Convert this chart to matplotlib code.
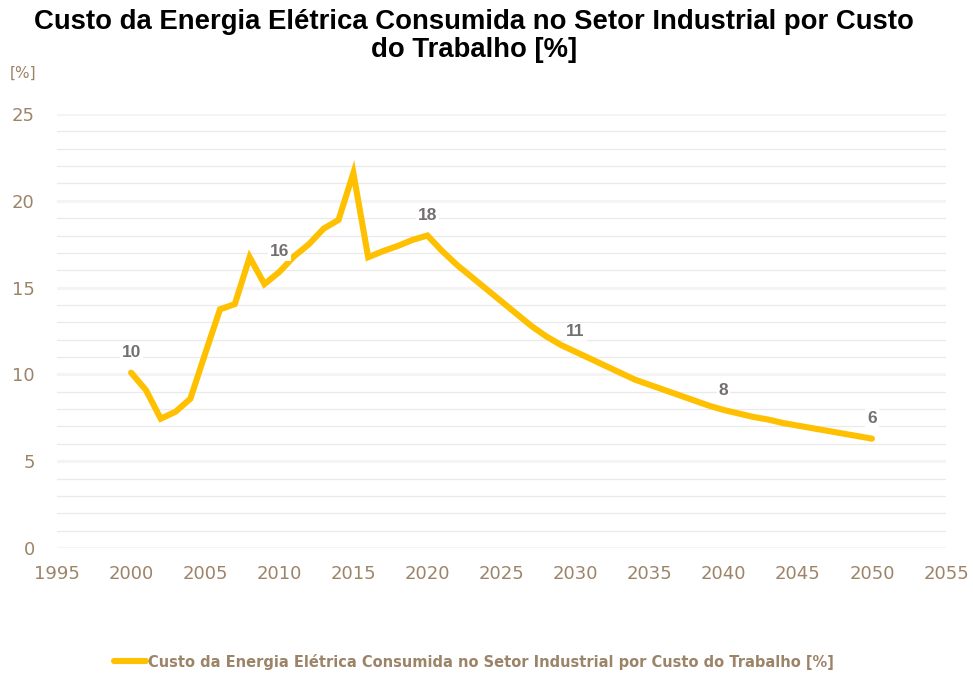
"""Custo da energia elétrica no setor industrial em relação ao custo do trabalho."""

import numpy as np
import matplotlib
matplotlib.use("Agg")
import matplotlib.pyplot as plt
from matplotlib.lines import Line2D

years = list(range(2000, 2051))
cost_pct = [
    10.1, 9.1, 7.45, 7.85, 8.6, 11.2, 13.75, 14.05, 16.75, 15.2,
    15.9, 16.8, 17.5, 18.4, 18.9, 21.6, 16.75, 17.1, 17.4, 17.75,
    18.0, 17.1, 16.3, 15.6, 14.9, 14.2, 13.5, 12.8, 12.2, 11.7,
    11.3, 10.9, 10.5, 10.1, 9.7, 9.4, 9.1, 8.8, 8.5, 8.2,
    7.95, 7.75, 7.55, 7.4, 7.2, 7.05, 6.9, 6.75, 6.6, 6.45,
    6.3,
]
label_years = [2000, 2010, 2020, 2030, 2040, 2050]

title = "Custo da Energia Elétrica Consumida no Setor Industrial por Custo\ndo Trabalho [%]"
series_name = "Custo da Energia Elétrica Consumida no Setor Industrial por Custo do Trabalho [%]"

line_color = "#FFC000"
tick_color = "#9C8468"
label_color = "#757070"

fig = plt.figure(figsize=(9.73, 6.73), dpi=100)
ax = fig.add_axes([0.0586, 0.1857, 0.9137, 0.6449])

ax.set_xlim(1995, 2055)
ax.set_ylim(0, 25)
ax.set_xticks(np.arange(1995, 2056, 5))
ax.set_yticks(np.arange(0, 26, 5))
ax.set_yticks(np.arange(0, 26, 1), minor=True)

# light horizontal grid: thick majors, thin minors
ax.grid(axis="y", which="major", color="#F4F4F4", linewidth=2.2, zorder=0)
ax.grid(axis="y", which="minor", color="#EAEAEA", linewidth=0.9, zorder=0)
for s in ax.spines.values():
    s.set_visible(False)
ax.tick_params(axis="both", which="both", length=0)
ax.tick_params(axis="x", colors=tick_color, labelsize=13, pad=12)
ax.tick_params(axis="y", colors=tick_color, labelsize=13, pad=16)

ax.plot(years, cost_pct, color=line_color, linewidth=4.4,
        solid_capstyle="round", solid_joinstyle="miter", zorder=3)

for yr in label_years:
    v = cost_pct[years.index(yr)]
    ax.annotate(f"{v:.0f}", (yr, v), xytext=(0, 9), textcoords="offset points",
                ha="center", va="bottom", fontsize=12.5, fontweight="bold",
                color=label_color, family="Liberation Sans", zorder=4,
                bbox=dict(boxstyle="square,pad=0.1", fc="white", ec="none"))

fig.text(0.487, 0.987, title, ha="center", va="top", fontsize=19.8,
         fontweight="bold", family="Liberation Sans", linespacing=1.1)
fig.text(0.01, 0.891, "[%]", ha="left", va="center", fontsize=11, color=tick_color)

handle = Line2D([0], [0], color=line_color, linewidth=4.4, solid_capstyle="round")
fig.legend([handle], [series_name], loc="center", bbox_to_anchor=(0.487, 0.017),
           frameon=False, handlelength=2.2, handletextpad=0.1,
           prop=dict(size=10.5, weight="bold"), labelcolor=tick_color)

fig.savefig("out.png", dpi=100)
